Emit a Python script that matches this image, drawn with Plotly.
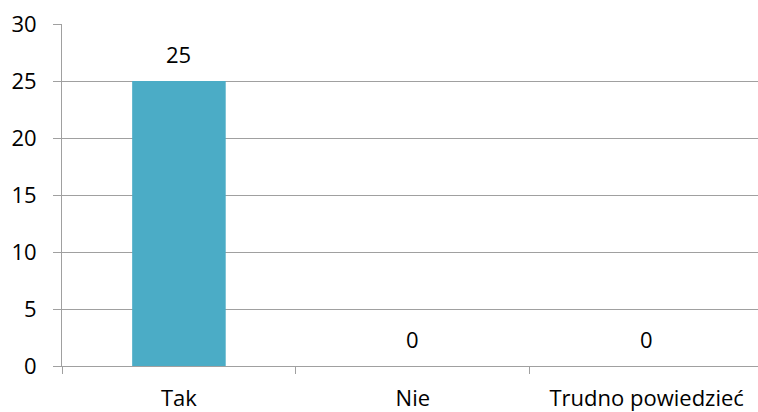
import plotly.graph_objects as go

categories = ["Tak", "Nie", "Trudno powiedzieć"]
values = [25, 0, 0]
y_ticks = [0, 5, 10, 15, 20, 25, 30]

FONT = "Open Sans, Carlito, sans-serif"
FS = 22

fig = go.Figure(go.Bar(
    x=categories, y=values, width=0.4,
    marker=dict(color="#4BACC6", line=dict(width=0)),
    cliponaxis=False,
))
for c, v in zip(categories, values):
    fig.add_annotation(x=c, y=v, text=str(v), showarrow=False,
                       yanchor="middle", yshift=27,
                       font=dict(family=FONT, size=FS, color="#000000"))

fig.update_layout(
    width=758, height=412,
    margin=dict(l=62, r=0, t=24, b=46, autoexpand=False),
    paper_bgcolor="white", plot_bgcolor="white",
    font=dict(family=FONT, size=FS, color="#000000"),
    showlegend=False,
)
fig.update_xaxes(
    type="category", range=[-0.5, 2.476], showgrid=False, automargin=False,
    showline=True, linecolor="#A0A0A0", linewidth=1,
    ticks="outside", tickson="boundaries", ticklen=7, tickcolor="#A0A0A0",
    ticklabelstandoff=13,
    tickfont=dict(family=FONT, size=FS),
)
fig.update_yaxes(
    range=[0, 30], tickvals=y_ticks, showgrid=True, gridcolor="#A0A0A0", gridwidth=1,
    automargin=False,
    showline=True, linecolor="#A0A0A0", linewidth=1,
    ticks="outside", ticklen=8, tickcolor="#A0A0A0", zeroline=False,
    ticklabelstandoff=12,
    tickfont=dict(family=FONT, size=FS),
)
fig.write_html("out.html", config={"displayModeBar": False},
               post_script="document.body.style.margin='0';document.body.style.overflow='hidden';")
